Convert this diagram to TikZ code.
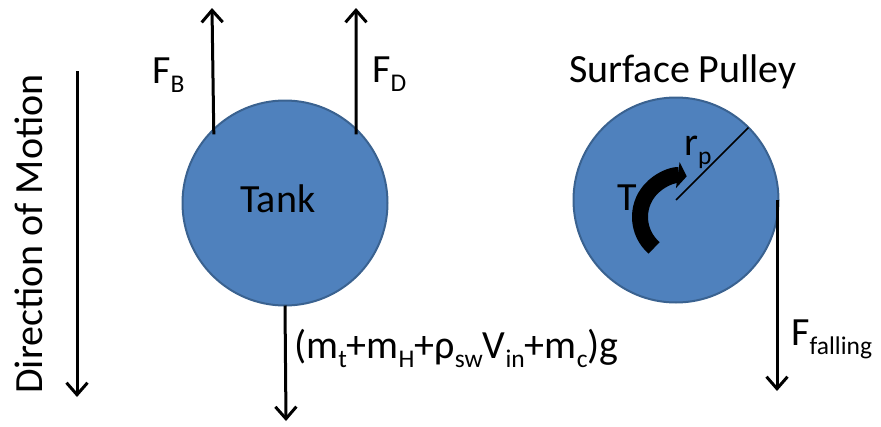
\documentclass[tikz,border=0pt]{standalone}
\usepackage{fontspec}
\setmainfont{Carlito}
\usetikzlibrary{arrows.meta}
\definecolor{ballfill}{HTML}{4F81BD}
\definecolor{balledge}{HTML}{3A6290}
\newcommand{\mysub}[1]{\raisebox{-9pt}{\fontsize{25.5}{26}\selectfont #1}}
\tikzset{
  ball/.style={circle, fill=ballfill, draw=balledge, line width=2pt, minimum size=205pt, inner sep=0pt, outer sep=0pt},
  force/.style={line width=3pt, -{Straight Barb[length=12pt,width=21pt,line width=3pt]}},
  lbl/.style={inner sep=0pt, font=\fontsize{40}{48}\selectfont}
}
\begin{document}
\begin{tikzpicture}[x=1pt,y=-1pt]
\useasboundingbox (0,0) rectangle (881,426);
% bodies
\node[ball] (tank) at (285,203) {};
\node[ball] (pulley) at (676,200) {};
% labels
\node[lbl, anchor=base] (tanklbl) at (278,212) {Tank};
\node[lbl, anchor=base west] (fb) at (152,83) {F\mysub{B}};
\node[lbl, anchor=base west] (fd) at (372,82) {F\mysub{D}};
\node[lbl, anchor=base west] (sp) at (569,82) {Surface Pulley};
\node[lbl, anchor=base west] (tq) at (617,210) {T};
\node[lbl, anchor=base west] (rp) at (684,155) {r\mysub{p}};
\node[lbl, anchor=base west] (ff) at (791,345) {F\mysub{falling}};
\node[lbl, anchor=base west] (wt) at (294,358) {(m\mysub{t}+m\mysub{H}+ρ\mysub{sw}V\mysub{in}+m\mysub{c})g};
\node[lbl, anchor=base, rotate=90] (dir) at (42,234) {Direction of Motion};
% free ends
\coordinate (fbtip) at (212,8);
\coordinate (fdtip) at (356,8);
\coordinate (wtip) at (286,421);
\coordinate (fftip) at (pulley.east |- 0,391);
\coordinate (dtop) at (77,71);
\coordinate (dbot) at (77,397);
% forces
\draw[force] (tank.134) ++(0,5) -- (fbtip);
\draw[force] (tank.46) ++(0,5) -- (fdtip);
\draw[force] (tank.south) -- (wtip);
\draw[force] ([xshift=-1.5pt]pulley.east) -- ([xshift=-1.5pt]fftip);
\draw[force] (dtop) -- (dbot);
% radius
\draw[line width=1.5pt] (pulley.center) -- (pulley.45);
% torque arrow
\draw[line width=16pt, -{Triangle[length=9pt,width=26pt]}] (654.1,247.9) arc[start angle=131,end angle=278,radius=41];
\end{tikzpicture}
\end{document}
